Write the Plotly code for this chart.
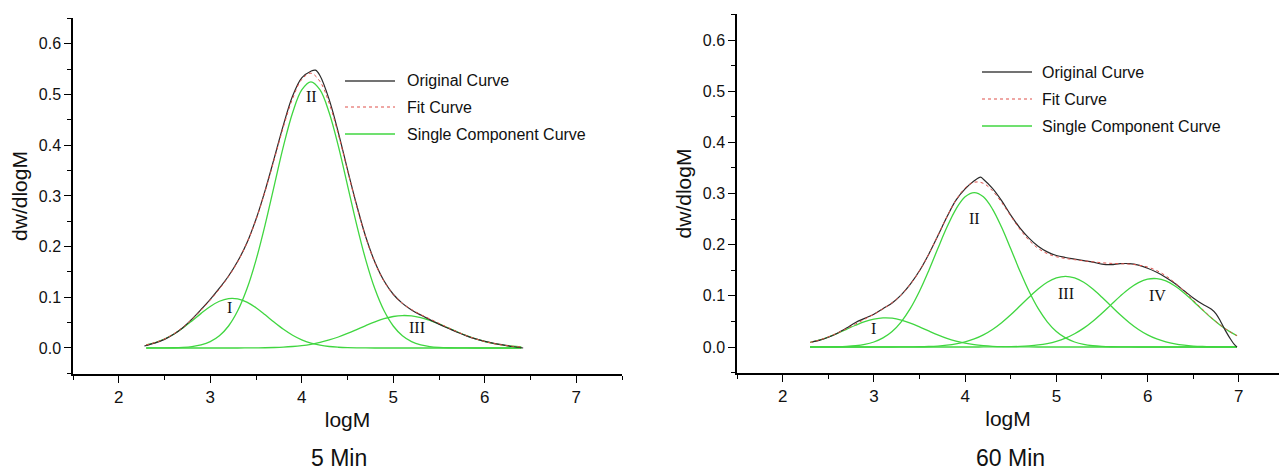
import plotly.graph_objects as go

# ---------------- data: 5 Min panel ----------------
x5 = [2.3, 2.4, 2.5, 2.6, 2.7, 2.8, 2.9, 3.0, 3.1, 3.2, 3.3, 3.4, 3.5, 3.6, 3.7, 3.8, 3.9, 4.0, 4.1,
      4.2, 4.3, 4.4, 4.5, 4.6, 4.7, 4.8, 4.9, 5.0, 5.1, 5.2, 5.3, 5.4, 5.5, 5.6, 5.7, 5.8, 5.9, 6.0,
      6.1, 6.2, 6.3, 6.4]
comp5_I = [0.0062, 0.0108, 0.0177, 0.0272, 0.0394, 0.0535, 0.0683, 0.0819, 0.0922, 0.0975, 0.0969,
           0.0905, 0.0794, 0.0654, 0.0506, 0.0368, 0.0251, 0.0161, 0.0097, 0.0055, 0.0029, 0.0015,
           0.0007, 0.0003, 0.0001, 0, 0, 0, 0, 0, 0, 0, 0, 0, 0, 0, 0, 0, 0, 0, 0, 0]
comp5_II = [0.0, 0.0001, 0.0002, 0.0005, 0.0013, 0.0029, 0.0062, 0.0127, 0.0242, 0.0434, 0.0733,
            0.1162, 0.1734, 0.2433, 0.3209, 0.398, 0.464, 0.509, 0.525, 0.509, 0.464, 0.398, 0.3209,
            0.2433, 0.1734, 0.1162, 0.0733, 0.0434, 0.0242, 0.0127, 0.0062, 0.0029, 0.0013, 0.0005,
            0.0002, 0.0001, 0, 0, 0, 0, 0, 0]
comp5_III = [0, 0, 0, 0, 0, 0, 0, 0, 0, 0, 0, 0.0001, 0.0003, 0.0005, 0.0010, 0.0017, 0.0029, 0.0047,
             0.0073, 0.0110, 0.0158, 0.0217, 0.0287, 0.0364, 0.0443, 0.0517, 0.0579, 0.0621, 0.0640,
             0.0632, 0.0598, 0.0544, 0.0474, 0.0396, 0.0318, 0.0244, 0.0180, 0.0128, 0.0087, 0.0056,
             0.0035, 0.0021]
fit5 = [0.0062, 0.0109, 0.0179, 0.0277, 0.0407, 0.0564, 0.0745, 0.0946, 0.1164, 0.1409, 0.1702,
        0.2068, 0.2531, 0.3092, 0.3725, 0.4365, 0.492, 0.5298, 0.542, 0.5255, 0.4827, 0.4212, 0.3503,
        0.28, 0.2178, 0.1679, 0.1312, 0.1055, 0.0882, 0.0759, 0.066, 0.0573, 0.0487, 0.0401, 0.032,
        0.0245, 0.018, 0.0128, 0.0087, 0.0056, 0.0035, 0.0021]
orig5_x = [2.28, 2.4, 2.5, 2.6, 2.7, 2.8, 2.9, 3.0, 3.1, 3.2, 3.3, 3.4, 3.5, 3.6, 3.7, 3.8, 3.9, 4.0,
           4.1, 4.15, 4.2, 4.3, 4.4, 4.5, 4.6, 4.7, 4.8, 4.9, 5.0, 5.1, 5.2, 5.3, 5.4, 5.5, 5.6, 5.7,
           5.8, 5.9, 6.0, 6.1, 6.2, 6.3, 6.42]
orig5_y = [0.004, 0.010, 0.017, 0.027, 0.040, 0.057, 0.076, 0.096, 0.118, 0.142, 0.171, 0.207, 0.254,
           0.311, 0.375, 0.440, 0.497, 0.533, 0.546, 0.548, 0.537, 0.490, 0.425, 0.352, 0.282, 0.219,
           0.169, 0.132, 0.106, 0.088, 0.075, 0.065, 0.056, 0.047, 0.039, 0.031, 0.024, 0.018, 0.013,
           0.009, 0.006, 0.003, 0.000]
labels5 = ["I", "II", "III"]
labels5_x = [3.21, 4.11, 5.26]
labels5_y = [0.080, 0.496, 0.040]

# ---------------- data: 60 Min panel ----------------
x60 = [2.3, 2.4, 2.5, 2.6, 2.7, 2.8, 2.9, 3.0, 3.1, 3.2, 3.3, 3.4, 3.5, 3.6, 3.7, 3.8, 3.9, 4.0, 4.1,
       4.2, 4.3, 4.4, 4.5, 4.6, 4.7, 4.8, 4.9, 5.0, 5.1, 5.2, 5.3, 5.4, 5.5, 5.6, 5.7, 5.8, 5.9, 6.0,
       6.1, 6.2, 6.3, 6.4, 6.5, 6.6, 6.7, 6.8, 6.9, 6.98]
comp60_I = [0.0089, 0.0135, 0.0195, 0.0267, 0.0346, 0.0425, 0.0494, 0.0544, 0.0569, 0.0563, 0.0527,
            0.0468, 0.0394, 0.0314, 0.0237, 0.0169, 0.0115, 0.0074, 0.0045, 0.0026, 0.0014, 0.0007,
            0.0004, 0.0002, 0.0001, 0, 0, 0, 0, 0, 0, 0, 0, 0, 0, 0, 0, 0, 0, 0, 0, 0, 0, 0, 0, 0,
            0, 0]
comp60_II = [0.0, 0.0001, 0.0002, 0.0005, 0.0012, 0.0025, 0.0051, 0.0098, 0.0178, 0.0304, 0.0493,
             0.0754, 0.1089, 0.1487, 0.1920, 0.2340, 0.2697, 0.2936, 0.302, 0.2936, 0.2697, 0.2340,
             0.1920, 0.1487, 0.1089, 0.0754, 0.0493, 0.0304, 0.0178, 0.0098, 0.0051, 0.0025, 0.0012,
             0.0005, 0.0002, 0.0001, 0, 0, 0, 0, 0, 0, 0, 0, 0, 0, 0, 0]
comp60_III = [0, 0, 0, 0, 0, 0, 0, 0, 0, 0, 0.0001, 0.0003, 0.0005, 0.0010, 0.0019, 0.0035, 0.0060,
              0.0099, 0.0157, 0.0237, 0.0343, 0.0476, 0.0631, 0.0801, 0.0974, 0.1135, 0.1265, 0.1350,
              0.138, 0.1350, 0.1265, 0.1135, 0.0974, 0.0801, 0.0631, 0.0476, 0.0343, 0.0237, 0.0157,
              0.0099, 0.0060, 0.0035, 0.0019, 0.0010, 0.0005, 0.0003, 0.0001, 0.0001]
comp60_IV = [0, 0, 0, 0, 0, 0, 0, 0, 0, 0, 0, 0, 0, 0, 0, 0, 0, 0, 0, 0.0001, 0.0001, 0.0003,
             0.0006, 0.0012, 0.0023, 0.0040, 0.0068, 0.0111, 0.0173, 0.0259, 0.0369, 0.0505, 0.0661,
             0.0829, 0.0995, 0.1144, 0.1258, 0.1326, 0.1337, 0.1292, 0.1194, 0.1057, 0.0896, 0.0728,
             0.0565, 0.0421, 0.0300, 0.0221]
fit60 = [0.0089, 0.0136, 0.0197, 0.0272, 0.0358, 0.0450, 0.0545, 0.0642, 0.0747, 0.0867, 0.1021,
         0.1225, 0.1488, 0.1811, 0.2176, 0.2544, 0.2872, 0.3109, 0.3222, 0.3200, 0.3055, 0.2826,
         0.2561, 0.2302, 0.2087, 0.1929, 0.1826, 0.1765, 0.1731, 0.1707, 0.1685, 0.1665, 0.1647,
         0.1635, 0.1628, 0.1621, 0.1601, 0.1563, 0.1494, 0.1391, 0.1254, 0.1092, 0.0915, 0.0738,
         0.0570, 0.0424, 0.0301, 0.0222]
orig60_x = [2.32, 2.4, 2.5, 2.6, 2.7, 2.8, 2.9, 3.0, 3.1, 3.2, 3.3, 3.4, 3.5, 3.6, 3.7, 3.8, 3.9, 4.0,
            4.1, 4.17, 4.2, 4.3, 4.4, 4.5, 4.6, 4.7, 4.8, 4.9, 5.0, 5.1, 5.2, 5.3, 5.4, 5.5, 5.6, 5.7,
            5.8, 5.9, 6.0, 6.1, 6.2, 6.3, 6.4, 6.5, 6.6, 6.7, 6.75, 6.8, 6.85, 6.9, 6.95, 6.98]
orig60_y = [0.010, 0.013, 0.019, 0.027, 0.037, 0.048, 0.056, 0.064, 0.075, 0.086, 0.102, 0.123,
            0.149, 0.181, 0.217, 0.254, 0.287, 0.309, 0.325, 0.332, 0.328, 0.310, 0.286, 0.258,
            0.233, 0.213, 0.197, 0.186, 0.179, 0.175, 0.172, 0.169, 0.166, 0.162, 0.161, 0.163,
            0.163, 0.160, 0.154, 0.146, 0.136, 0.124, 0.110, 0.096, 0.084, 0.074, 0.065, 0.050,
            0.033, 0.018, 0.005, 0.000]
labels60 = ["I", "II", "III", "IV"]
labels60_x = [3.00, 4.10, 5.11, 6.11]
labels60_y = [0.0365, 0.251, 0.105, 0.1016]

legend_names = ["Original Curve", "Fit Curve", "Single Component Curve"]
captions = ["5 Min", "60 Min"]

# ---------------- styles ----------------
GREEN = "rgb(64,214,64)"
BLACK = "#2a2a2a"
RED = "#e0504a"
SANS = "Liberation Sans, Arial, sans-serif"
SERIF = "Liberation Serif, Times New Roman, serif"
TXT = "#111111"
W, H = 1279, 470

fig = go.Figure()


def add_panel(xa, ya, xc, comps, fx, fy, ox, oy):
    for c in comps:
        fig.add_trace(go.Scatter(x=xc, y=c, mode="lines", line=dict(color=GREEN, width=1.3, shape="spline"),
                                 xaxis=xa, yaxis=ya, showlegend=False, hoverinfo="skip"))
    fig.add_trace(go.Scatter(x=ox, y=oy, mode="lines", line=dict(color=BLACK, width=1.2, shape="spline"),
                             xaxis=xa, yaxis=ya, showlegend=False, name=legend_names[0]))
    fig.add_trace(go.Scatter(x=fx, y=fy, mode="lines",
                             line=dict(color=RED, width=1, dash="dot", shape="spline"),
                             xaxis=xa, yaxis=ya, showlegend=False, name=legend_names[1]))


add_panel("x", "y", x5, [comp5_I, comp5_II, comp5_III], x5, fit5, orig5_x, orig5_y)
add_panel("x2", "y2", x60, [comp60_I, comp60_II, comp60_III, comp60_IV], x60, fit60, orig60_x, orig60_y)

annotations = []
for t, lx, ly in zip(labels5, labels5_x, labels5_y):
    annotations.append(dict(x=lx, y=ly, xref="x", yref="y", text=t, showarrow=False,
                            font=dict(family=SERIF, size=16, color=TXT)))
for t, lx, ly in zip(labels60, labels60_x, labels60_y):
    annotations.append(dict(x=lx, y=ly, xref="x2", yref="y2", text=t, showarrow=False,
                            font=dict(family=SERIF, size=16, color=TXT)))

# manual legends (line samples + text)
shapes = []
leg_specs = [(345, 395, 405, [81, 107, 134]), (982, 1032, 1040, [72, 99, 126])]
leg_styles = [dict(color="#444", width=1.3), dict(color=RED, width=1.2, dash="dot"),
              dict(color=GREEN, width=1.5)]
for x0, x1, tx, rows in leg_specs:
    for name, row, st in zip(legend_names, rows, leg_styles):
        yy = 1 - row / H
        shapes.append(dict(type="line", xref="paper", yref="paper", x0=x0 / W, x1=x1 / W,
                           y0=yy, y1=yy, line=st))
        annotations.append(dict(x=tx / W, y=yy, xref="paper", yref="paper", text=name,
                                showarrow=False, xanchor="left", yanchor="middle",
                                font=dict(family=SANS, size=16, color=TXT)))

for cap, cx in zip(captions, [339, 1010]):
    annotations.append(dict(x=cx / W, y=1 - 458 / H, xref="paper", yref="paper", text=cap,
                            showarrow=False, xanchor="center", yanchor="middle",
                            font=dict(family=SANS, size=23, color=TXT)))

xcommon = dict(showline=True, linecolor="black", linewidth=1.5, ticks="outside", ticklen=7,
               tickwidth=1.2, tickcolor="black", dtick=1, tick0=0, showgrid=False, zeroline=False,
               automargin=False, tickfont=dict(family=SANS, size=17, color=TXT),
               minor=dict(ticks="outside", ticklen=4, tickwidth=1.2, tickcolor="black", dtick=0.5,
                          tick0=0, showgrid=False),
               title=dict(text="logM", font=dict(family=SANS, size=21, color=TXT), standoff=6))
ycommon = dict(showline=True, linecolor="black", linewidth=1.5, ticks="outside", ticklen=7,
               tickwidth=1.2, tickcolor="black", dtick=0.1, tick0=0, tickformat=".1f",
               showgrid=False, zeroline=False, automargin=False,
               tickfont=dict(family=SANS, size=16, color=TXT),
               minor=dict(ticks="outside", ticklen=4, tickwidth=1.2, tickcolor="black", dtick=0.05,
                          tick0=0, showgrid=False),
               title=dict(text="dw/dlogM", font=dict(family=SANS, size=21, color=TXT), standoff=5))

fig.update_layout(
    width=W, height=H, margin=dict(l=0, r=0, t=0, b=0), template="none",
    paper_bgcolor="white", plot_bgcolor="white", showlegend=False,
    xaxis=dict(xcommon, domain=[73 / W, 622 / W], range=[1.5, 7.5], anchor="y"),
    yaxis=dict(ycommon, domain=[(H - 374) / H, (H - 18) / H], range=[-0.0513, 0.6509], anchor="x"),
    xaxis2=dict(xcommon, domain=[737 / W, 1.0], range=[1.5, 7.44], anchor="y2"),
    yaxis2=dict(ycommon, domain=[(H - 373) / H, (H - 14) / H], range=[-0.0508, 0.651], anchor="x2"),
    annotations=annotations, shapes=shapes,
)

fig.write_html("out.html")
